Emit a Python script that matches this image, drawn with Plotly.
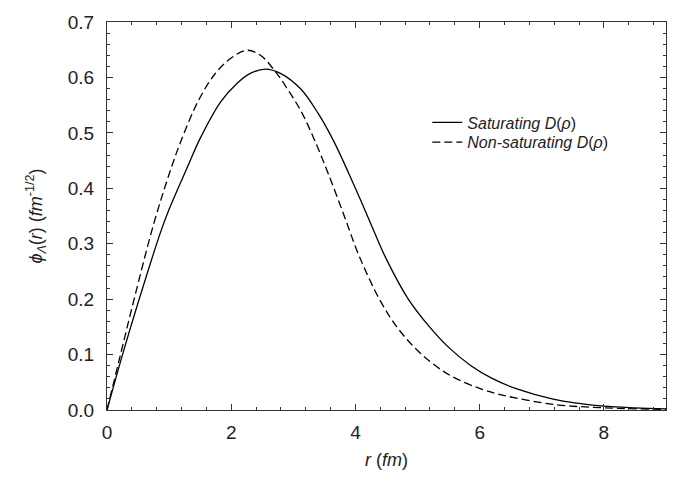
import plotly.graph_objects as go

# Saturating D(rho) -- solid curve
r_sat = [0.0, 0.25, 0.51, 0.86, 1.0, 1.29, 1.5, 1.83, 2.1, 2.3, 2.55, 2.8, 3.12, 3.4, 3.65,
         3.9, 4.09, 4.3, 4.49, 4.84, 5.2, 5.5, 5.86, 6.2, 6.6, 7.2, 7.6, 8.0, 8.5, 9.0]
phi_sat = [0.0, 0.100, 0.197, 0.320, 0.362, 0.437, 0.490, 0.556, 0.590, 0.607, 0.615, 0.607,
           0.579, 0.535, 0.485, 0.425, 0.377, 0.322, 0.274, 0.202, 0.149, 0.113, 0.080, 0.057,
           0.038, 0.019, 0.012, 0.007, 0.004, 0.002]

# Non-saturating D(rho) -- dashed curve
r_non = [0.0, 0.2, 0.43, 0.75, 1.02, 1.2, 1.48, 1.75, 2.0, 2.25, 2.47, 2.7, 2.9, 3.12, 3.33,
         3.55, 3.82, 4.07, 4.41, 4.7, 5.05, 5.5, 6.02, 6.4, 7.2, 8.0, 9.0]
phi_non = [0.0, 0.092, 0.197, 0.335, 0.432, 0.488, 0.560, 0.608, 0.635, 0.649, 0.640, 0.612,
           0.580, 0.540, 0.490, 0.430, 0.350, 0.275, 0.195, 0.145, 0.102, 0.064, 0.038, 0.026,
           0.010, 0.004, 0.001]

x_ticks = [0, 2, 4, 6, 8]
y_ticks = [0.0, 0.1, 0.2, 0.3, 0.4, 0.5, 0.6, 0.7]

FONT = "Liberation Sans, Arial, Helvetica, sans-serif"
AX = "#333333"
TXT = "#222222"

fig = go.Figure()
fig.add_trace(go.Scatter(
    x=r_sat, y=phi_sat, mode="lines", line=dict(color="black", width=1.3, shape="spline"),
    name="<i>Saturating D</i>(<i>ρ</i>)", legend="legend"))
fig.add_trace(go.Scatter(
    x=r_non, y=phi_non, mode="lines",
    line=dict(color="black", width=1.3, dash="8px,4px", shape="spline"),
    name="<i>Non-saturating D</i>(<i>ρ</i>)", legend="legend2"))

axis_common = dict(
    showline=True, linecolor=AX, linewidth=1.3, mirror="allticks",
    ticks="inside", ticklen=6, tickwidth=1.2, tickcolor=AX,
    showgrid=False, zeroline=False,
    tickfont=dict(family=FONT, size=19, color=TXT),
)

fig.update_xaxes(
    range=[0, 9], tickvals=x_ticks, ticktext=[str(v) for v in x_ticks],
    minor=dict(dtick=0.4, tick0=0, ticks="inside", ticklen=3, tickwidth=1, tickcolor=AX),
    ticklabelstandoff=5,
    title=dict(text="<i>r</i> (<i>fm</i>)", font=dict(family=FONT, size=18, color=TXT),
               standoff=11),
    **axis_common)
fig.update_yaxes(
    range=[0, 0.7], tickvals=y_ticks, ticktext=[f"{v:.1f}" for v in y_ticks],
    minor=dict(dtick=0.02, tick0=0, ticks="inside", ticklen=3, tickwidth=1, tickcolor=AX),
    ticklabelstandoff=8,
    title=dict(text="<i>ϕ</i><sub><i>Λ</i></sub>(<i>r</i>) (<i>fm</i><sup>-1/2</sup>)",
               font=dict(family=FONT, size=18, color=TXT), standoff=20),
    **axis_common)

leg = dict(font=dict(family=FONT, size=16, color=TXT), bgcolor="rgba(0,0,0,0)",
           borderwidth=0, xanchor="left", yanchor="middle")
fig.update_layout(
    width=680, height=483,
    margin=dict(l=107, r=14, t=20, b=73),
    paper_bgcolor="white", plot_bgcolor="white",
    showlegend=True,
    legend=dict(x=0.573, y=0.741, **leg),
    legend2=dict(x=0.573, y=0.690, **leg),
)

fig.write_html("out.html")
